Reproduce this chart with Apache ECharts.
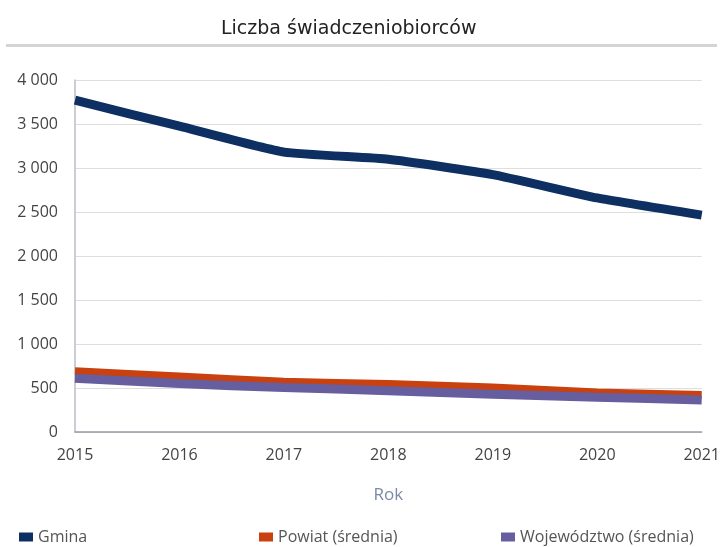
<!DOCTYPE html>
<html lang="pl">
<head>
<meta charset="utf-8">
<title>Liczba świadczeniobiorców</title>
<script src="https://cdn.jsdelivr.net/npm/echarts@6/dist/echarts.min.js"></script>
<style>
html,body{margin:0;padding:0;background:#fff;}
#main{width:723px;height:547px;}
</style>
</head>
<body>
<div id="main"></div>
<script>
var years = ['2015','2016','2017','2018','2019','2020','2021'];
var gmina = [3770, 3475, 3180, 3100, 2925, 2660, 2465];
var powiat = [690, 630, 570, 545, 505, 450, 420];
var wojewodztwo = [610, 550, 505, 470, 430, 395, 365];

var chart = echarts.init(document.getElementById('main'));

function fmt(v){
  return String(v).replace(/\B(?=(\d{3})+(?!\d))/g, ' ');
}

var legendText = {color:'#555', fontSize:16, fontFamily:'Open Sans'};

chart.setOption({
  animation:false,
  title:{
    text:'Liczba świadczeniobiorców',
    left:216, top:15,
    textStyle:{fontFamily:'DejaVu Sans', fontWeight:'normal', fontSize:19, color:'#222'}
  },
  graphic:[{
    type:'rect', left:6, top:44, shape:{width:711, height:3},
    style:{fill:'#d4d4d4'}
  }],
  legend:[
    {data:['Gmina'], left:14, top:524, itemWidth:14, itemHeight:9, itemGap:6, icon:'rect', textStyle:legendText},
    {data:['Powiat (średnia)'], left:254, top:524, itemWidth:14, itemHeight:9, icon:'rect', textStyle:legendText},
    {data:['Województwo (średnia)'], left:496, top:524, itemWidth:14, itemHeight:9, icon:'rect', textStyle:legendText}
  ],
  grid:{left:75, right:18, top:80, bottom:115},
  xAxis:{
    type:'category', data:years, boundaryGap:false,
    name:'Rok', nameLocation:'middle', nameGap:55,
    nameTextStyle:{color:'#7a8aa6', fontSize:17, fontFamily:'Open Sans'},
    axisLine:{lineStyle:{color:'#9a9aa8', width:1.5}},
    axisTick:{show:false},
    axisLabel:{color:'#444', fontSize:16, fontFamily:'Open Sans', margin:15}
  },
  yAxis:{
    type:'value', min:0, max:4000, interval:500,
    axisLine:{show:true, lineStyle:{color:'#b8bccb', width:1.5}},
    axisTick:{show:false},
    splitLine:{lineStyle:{color:'#dedede', width:1}},
    axisLabel:{color:'#444', fontSize:16, fontFamily:'Open Sans', margin:17, formatter:fmt}
  },
  series:[
    {name:'Gmina', type:'line', data:gmina, symbol:'none', smooth:0.15,
     lineStyle:{color:'#0e2f62', width:9}, itemStyle:{color:'#0e2f62'}},
    {name:'Powiat (średnia)', type:'line', data:powiat, symbol:'none', smooth:0.15,
     lineStyle:{color:'#c8410f', width:8}, itemStyle:{color:'#c8410f'}},
    {name:'Województwo (średnia)', type:'line', data:wojewodztwo, symbol:'none', smooth:0.15,
     lineStyle:{color:'#675e9f', width:9}, itemStyle:{color:'#675e9f'}}
  ]
});
</script>
</body>
</html>
